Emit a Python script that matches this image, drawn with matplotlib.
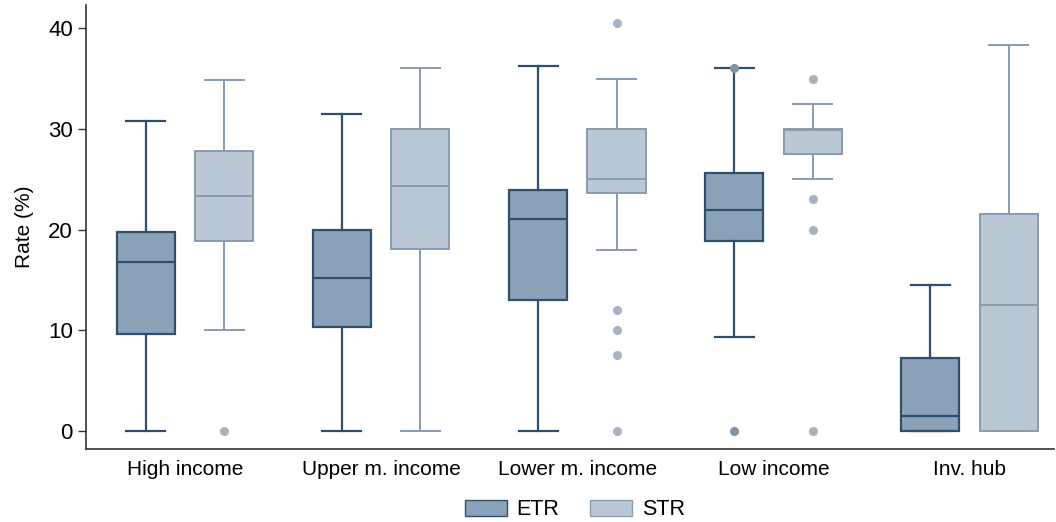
import numpy as np
import matplotlib.pyplot as plt
from matplotlib.patches import Patch

plt.rcParams['font.family'] = ['Liberation Sans', 'DejaVu Sans']

groups = ['High income', 'Upper m. income', 'Lower m. income', 'Low income', 'Inv. hub']

# box stats: (whislo, q1, med, q3, whishi)
etr_stats = [(0, 9.6, 16.8, 19.8, 30.8),
             (0, 10.3, 15.2, 20.0, 31.5),
             (0, 13.0, 21.0, 23.9, 36.2),
             (9.3, 18.9, 21.9, 25.6, 36.0),
             (0, 0, 1.5, 7.2, 14.5)]
etr_fliers = [[], [], [], [36.0, 0], []]

str_stats = [(10.0, 18.9, 23.3, 27.8, 34.9),
             (0, 18.1, 24.3, 30.0, 36.0),
             (18.0, 23.6, 25.0, 30.0, 35.0),
             (25.0, 27.5, 29.9, 30.0, 32.5),
             (0, 0, 12.5, 21.5, 38.3)]
str_fliers = [[0], [], [40.5, 12.0, 10.0, 7.5, 0], [35.0, 23.0, 20.0, 0], []]

etr_fill, etr_edge, etr_dot = '#8ba2b8', '#2f4f6e', '#7f93a8'
str_fill, str_edge, str_dot = '#bac8d5', '#8a9bae', '#a7b3c2'


def to_bxp(stats, fliers):
    out = []
    for (lo, q1, med, q3, hi), fl in zip(stats, fliers):
        out.append(dict(whislo=lo, q1=q1, med=med, q3=q3, whishi=hi, fliers=fl))
    return out


fig = plt.figure(figsize=(10.56, 5.22), dpi=100)
ax = fig.add_axes([0.0814, 0.1398, 0.9166, 0.8506])

x = np.arange(len(groups))
off = 0.2
w = 0.297

for stats, fl, pos, fill, edge, dot, lw in [
        (etr_stats, etr_fliers, x - off, etr_fill, etr_edge, etr_dot, 1.6),
        (str_stats, str_fliers, x + off, str_fill, str_edge, str_dot, 1.4)]:
    ax.bxp(to_bxp(stats, fl), positions=pos, widths=w, patch_artist=True,
           showfliers=True, manage_ticks=False,
           boxprops=dict(facecolor=fill, edgecolor=edge, linewidth=lw),
           medianprops=dict(color=edge, linewidth=lw),
           whiskerprops=dict(color=edge, linewidth=lw),
           capprops=dict(color=edge, linewidth=lw),
           capwidths=w * 0.67,
           flierprops=dict(marker='o', markerfacecolor=dot, markeredgecolor=dot,
                           markersize=5.5))

ax.set_xlim(-0.505, 4.43)
ax.set_ylim(-1.8, 42.3)
ax.set_xticks(x)
ax.set_xticklabels(groups, fontsize=15)
ax.tick_params(axis='x', length=0, pad=8)
ax.set_yticks([0, 10, 20, 30, 40])
ax.tick_params(axis='y', labelsize=16, length=6, width=1, color='#333333')
ax.set_ylabel('Rate (%)', fontsize=15, labelpad=10)
ax.spines['top'].set_visible(False)
ax.spines['right'].set_visible(False)
for s in ['left', 'bottom']:
    ax.spines[s].set_color('#333333')
    ax.spines[s].set_linewidth(1.2)

handles = [Patch(facecolor=etr_fill, edgecolor=etr_edge, linewidth=1, label='ETR'),
           Patch(facecolor=str_fill, edgecolor=str_edge, linewidth=1, label='STR')]
ax.legend(handles=handles, loc='center', bbox_to_anchor=(0.505, -0.137), ncol=2,
          frameon=False, fontsize=15.5, handlelength=1.95, handleheight=0.72,
          columnspacing=1.45, handletextpad=0.45)

fig.savefig('out.png', dpi=100)
